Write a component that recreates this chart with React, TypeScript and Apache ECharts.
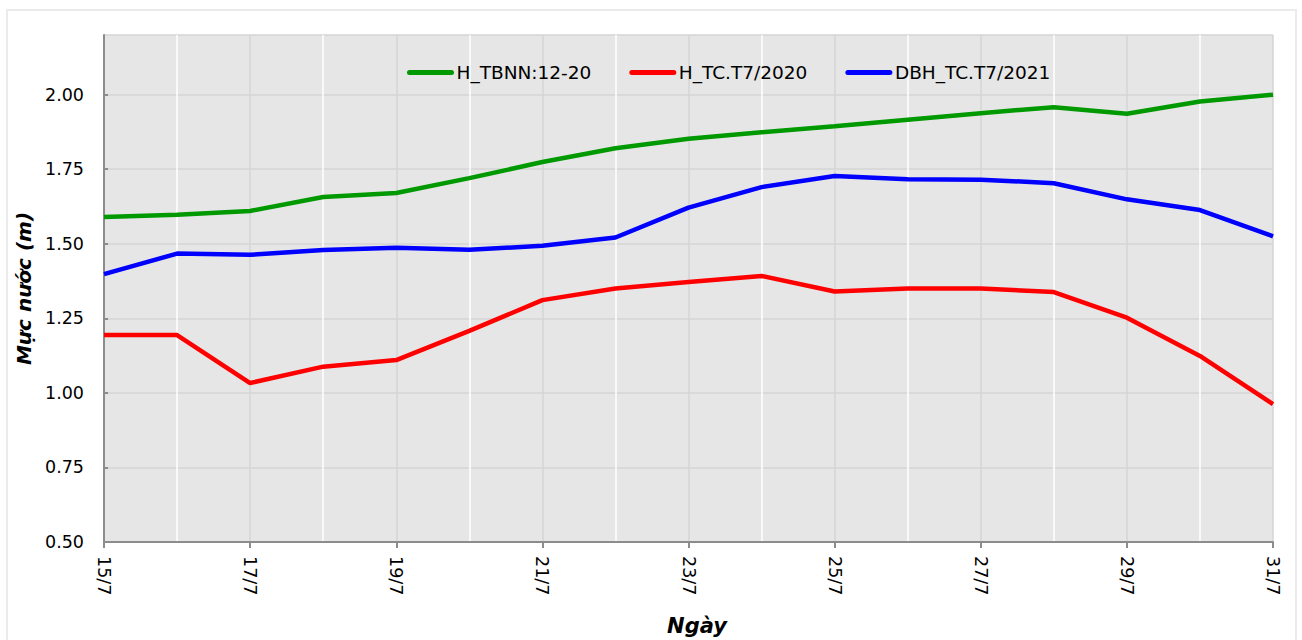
import React, { useEffect, useRef } from "react";
import * as echarts from "echarts";

const categories = ["15/7", "16/7", "17/7", "18/7", "19/7", "20/7", "21/7", "22/7", "23/7", "24/7", "25/7", "26/7", "27/7", "28/7", "29/7", "30/7", "31/7"];
const seriesNames = ["H_TBNN:12-20", "H_TC.T7/2020", "DBH_TC.T7/2021"];
const hTbnn = [1.59, 1.597, 1.61, 1.657, 1.67, 1.72, 1.774, 1.82, 1.852, 1.874, 1.894, 1.916, 1.938, 1.958, 1.936, 1.977, 2.0];
const hTc2020 = [1.194, 1.194, 1.033, 1.088, 1.11, 1.208, 1.311, 1.35, 1.372, 1.392, 1.34, 1.35, 1.35, 1.338, 1.252, 1.124, 0.962];
const dbh2021 = [1.398, 1.467, 1.463, 1.479, 1.487, 1.48, 1.493, 1.521, 1.621, 1.69, 1.727, 1.716, 1.715, 1.703, 1.649, 1.613, 1.525];
const colors = ["#009900", "#ff0000", "#0000ff"];
const yMin = 0.5;
const yMax = 2.2;
const yStep = 0.25;

const FONT = "DejaVu Sans";

export default function App() {
  const ref = useRef<HTMLDivElement>(null);
  useEffect(() => {
    if (!ref.current) return;
    const chart = echarts.init(ref.current, null, { renderer: "svg" });
    const data = [hTbnn, hTc2020, dbh2021];
    chart.setOption({
      animation: false,
      backgroundColor: "#ffffff",
      graphic: [
        {
          type: "rect",
          shape: { x: 7, y: 10, width: 1289, height: 640 },
          style: { fill: "none", stroke: "#ebebeb", lineWidth: 2 },
          silent: true,
          z: -10,
        },
      ],
      legend: {
        left: 402,
        top: 58,
        itemWidth: 42,
        itemHeight: 5,
        itemGap: 38,
        textStyle: { fontFamily: FONT, fontSize: 18.5, color: "#000" },
        lineStyle: { width: 5, cap: "round" },
        data: seriesNames,
      },
      grid: {
        left: 104,
        top: 35,
        right: 29,
        bottom: 98,
        show: true,
        backgroundColor: "#e6e6e6",
        borderWidth: 0,
        containLabel: false,
        outerBoundsMode: "none",
      },
      xAxis: {
        type: "category",
        data: categories,
        boundaryGap: false,
        name: "Ngày",
        nameLocation: "middle",
        nameGap: 73,
        nameTextStyle: {
          fontFamily: FONT,
          fontSize: 21,
          fontWeight: "bold",
          fontStyle: "italic",
          color: "#000",
          padding: [0, 0, 0, 17],
        },
        axisLine: { show: true, lineStyle: { color: "#8c8c8c", width: 2 } },
        axisTick: { show: true, interval: 1, length: 6, lineStyle: { color: "#8c8c8c", width: 2 } },
        axisLabel: {
          interval: 1,
          rotate: -90,
          margin: 14,
          fontFamily: FONT,
          fontSize: 17.5,
          color: "#000",
        },
        splitLine: {
          show: true,
          interval: 0,
          lineStyle: { color: ["#d4d4d4", "#ffffff"], width: 1.5 },
        },
      },
      yAxis: {
        type: "value",
        min: yMin,
        max: yMax,
        interval: yStep,
        name: "Mực nước (m)",
        nameLocation: "middle",
        nameGap: 61,
        nameTextStyle: {
          fontFamily: FONT,
          fontSize: 20,
          fontWeight: "bold",
          fontStyle: "italic",
          color: "#000",
        },
        axisLine: { show: true, lineStyle: { color: "#8c8c8c", width: 2 } },
        axisTick: { show: true, inside: true, length: 4, lineStyle: { color: "#8c8c8c", width: 2 } },
        axisLabel: {
          showMaxLabel: false,
          margin: 20,
          fontFamily: FONT,
          fontSize: 17.5,
          color: "#000",
          formatter: (v: number) => v.toFixed(2),
        },
        splitLine: { show: true, lineStyle: { color: "#d4d4d4", width: 1.5 } },
      },
      series: seriesNames.map((name, i) => ({
        name,
        type: "line",
        data: data[i],
        symbol: "none",
        color: colors[i],
        lineStyle: { color: colors[i], width: 4.5 },
      })),
    });
    return () => chart.dispose();
  }, []);
  return (
    <div
      ref={ref}
      style={{ position: "absolute", left: 0, top: 0, width: 1302, height: 640 }}
    />
  );
}
